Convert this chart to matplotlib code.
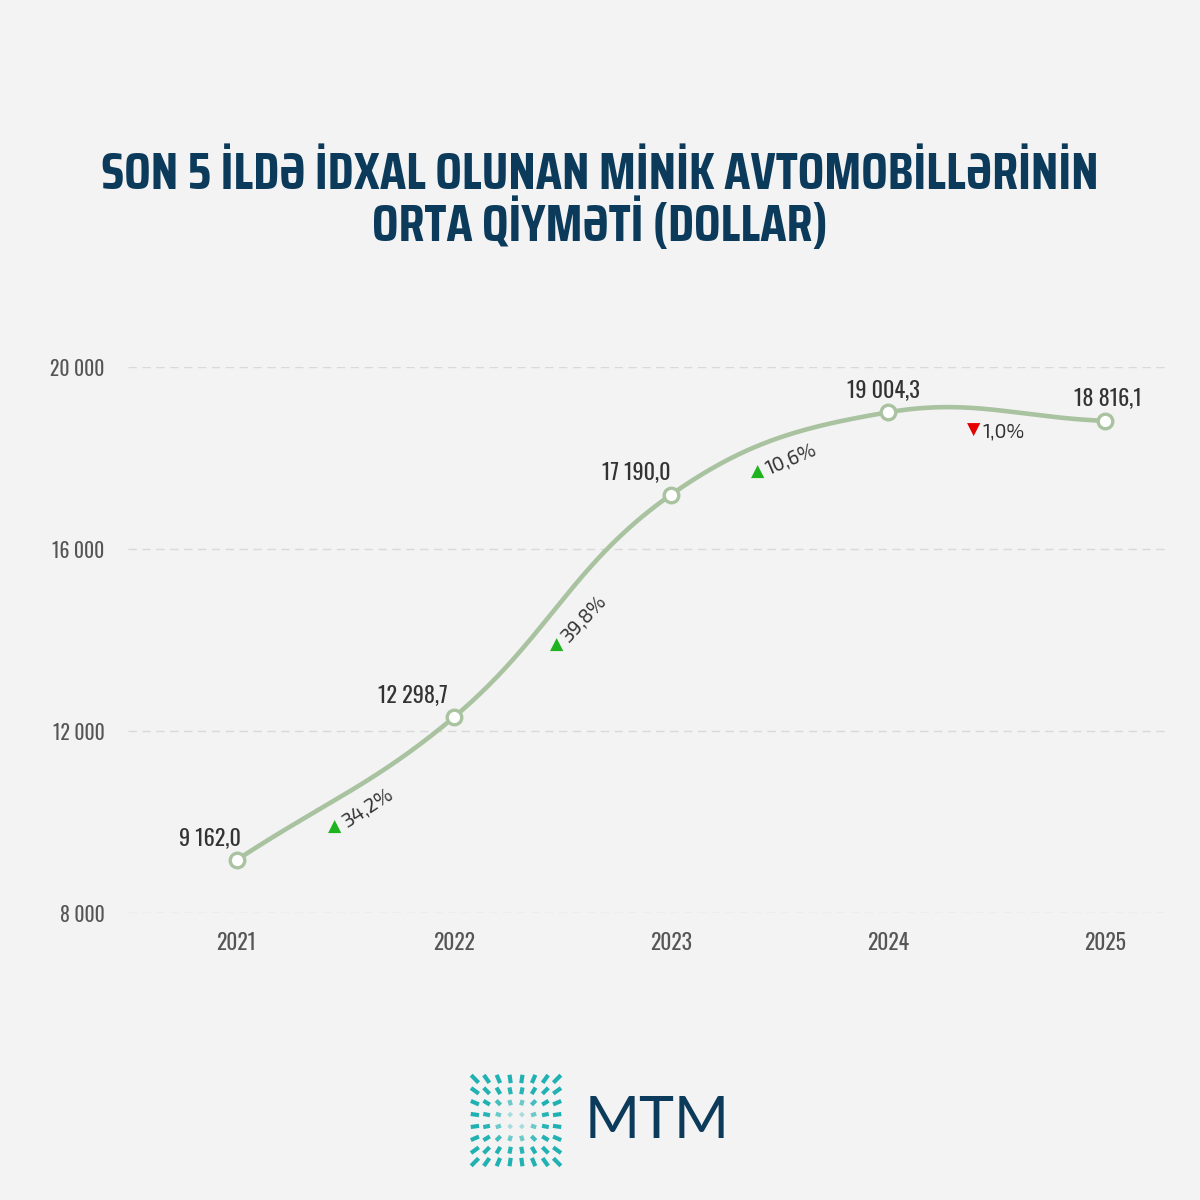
import numpy as np
import matplotlib
matplotlib.use("Agg")
import matplotlib.pyplot as plt
from matplotlib.collections import LineCollection
from matplotlib import font_manager as fm
from matplotlib.ft2font import FT2Font

# ---------------- data ----------------
years = ["2021", "2022", "2023", "2024", "2025"]
values = [9162.0, 12298.7, 17190.0, 19004.3, 18816.1]
value_labels = ["9 162,0", "12 298,7", "17 190,0", "19 004,3", "18 816,1"]
changes = ["34,2%", "39,8%", "10,6%", "1,0%"]
change_up = [True, True, True, False]
y_ticks = [8000, 12000, 16000, 20000]
y_tick_labels = ["8 000", "12 000", "16 000", "20 000"]
title_lines = ["SON 5 İLDƏ İDXAL OLUNAN MİNİK AVTOMOBİLLƏRİNİN", "ORTA QİYMƏTİ (DOLLAR)"]
logo_text = "MTM"

# ---------------- fonts ----------------
def pick(cands, weight=400, chars=""):
    for name in cands:
        fs = [f for f in fm.fontManager.ttflist if f.name == name and f.style == "normal"]
        if not fs:
            continue
        def wv(f):
            try:
                return int(f.weight)
            except Exception:
                return 400
        best = min(fs, key=lambda f: abs(wv(f) - weight))
        try:
            ft = FT2Font(best.fname)
            if all(ft.get_char_index(ord(c)) for c in chars if not c.isspace()):
                return name
        except Exception:
            continue
    return "DejaVu Sans"

TITLE_FONT = pick(["Rajdhani", "Saira Semi Condensed", "Saira Condensed", "Barlow Semi Condensed",
                   "Barlow Condensed", "Exo 2", "Roboto Condensed", "Oswald"], 700,
                  "".join(title_lines))
NUM_FONT = pick(["Oswald", "Roboto Condensed", "Barlow Condensed", "PT Sans Narrow",
                 "Archivo Narrow", "Liberation Sans Narrow"], 300, "0123456789,")
PCT_FONT = pick(["Exo 2", "Exo", "Play", "Saira", "Rajdhani", "Titillium Web"], 400, "0123456789,%")
LOGO_FONT = pick(["Lato", "Open Sans", "Roboto"], 400, "MTM")

# ---------------- style ----------------
BG = "#f3f3f3"
NAVY = "#0c3a5b"
LINE = "#a9c3a1"
TXT = "#333333"
TICK = "#555555"
UP = "#1fb41f"
DOWN = "#e60000"
W = H = 1200

fig = plt.figure(figsize=(12, 12), dpi=100, facecolor=BG)
renderer = fig.canvas.get_renderer()

def fit(t, target_px):
    t.set_fontsize(20)
    w = t.get_window_extent(renderer).width
    t.set_fontsize(20 * target_px / w)
    return t.get_fontsize()

def fitsize(text, family, target_px, weight="normal"):
    t = fig.text(0, 0, text, family=family, fontweight=weight)
    s = fit(t, target_px)
    t.remove()
    return s

ax = fig.add_axes([128 / W, 1 - 913 / H, 1040 / W, 546 / H])
ax.set_facecolor("none")
x = np.arange(len(years))
ax.set_xlim(-0.5, 4.29)
ax.set_ylim(8000, 20000)
for s in ax.spines.values():
    s.set_visible(False)

ytick_fs = fitsize("20 000", [NUM_FONT, "DejaVu Sans"], 55)
xtick_fs = fitsize("2021", [NUM_FONT, "DejaVu Sans"], 40)
val_fs = fitsize("12 298,7", [NUM_FONT, "DejaVu Sans"], 70)
pct_fs = fitsize("1,0%", [PCT_FONT, "DejaVu Sans"], 42)

ax.set_yticks(y_ticks)
ax.set_yticklabels(y_tick_labels, fontsize=ytick_fs, color=TICK, family=[NUM_FONT, "DejaVu Sans"])
ax.set_xticks(x)
ax.set_xticklabels(years, fontsize=xtick_fs, color=TICK, family=[NUM_FONT, "DejaVu Sans"])
ax.tick_params(axis="y", length=0, pad=17)
ax.tick_params(axis="x", length=0, pad=14)
ax.grid(axis="y", color="#d9d9d9", lw=1.0, ls=(0, (6, 4)))
ax.set_axisbelow(True)

# ---------------- spline (Chart.js-style, tension 0.4, in display space) ----
fig.canvas.draw()
pts = ax.transData.transform(np.column_stack([x, values]))
n = len(pts)
tension = 0.4
cprev = np.zeros_like(pts)
cnext = np.zeros_like(pts)
for i in range(n):
    p0 = pts[i - 1] if i > 0 else pts[i]
    p1 = pts[i]
    p2 = pts[i + 1] if i < n - 1 else pts[i]
    d01 = np.hypot(*(p1 - p0))
    d12 = np.hypot(*(p2 - p1))
    tot = d01 + d12
    s01 = d01 / tot if tot else 0
    s12 = d12 / tot if tot else 0
    cprev[i] = p1 - tension * s01 * (p2 - p0)
    cnext[i] = p1 + tension * s12 * (p2 - p0)

curve = []
mids = []
for i in range(n - 1):
    P0, C1, C2, P3 = pts[i], cnext[i], cprev[i + 1], pts[i + 1]
    t = np.linspace(0, 1, 80)[:, None]
    seg = (1 - t) ** 3 * P0 + 3 * (1 - t) ** 2 * t * C1 + 3 * (1 - t) * t ** 2 * C2 + t ** 3 * P3
    curve.append(seg if i == 0 else seg[1:])
    mids.append(0.125 * P0 + 0.375 * C1 + 0.375 * C2 + 0.125 * P3)
curve = np.vstack(curve)
inv = ax.transData.inverted()
curve_d = inv.transform(curve)
mids_d = inv.transform(np.array(mids))

ax.plot(curve_d[:, 0], curve_d[:, 1], color=LINE, lw=3.3, solid_capstyle="round", zorder=3)
ax.plot(x, values, ls="none", marker="o", ms=10.5, mfc="white", mec=LINE, mew=2.4, zorder=4)

# value labels
label_ha = ["right", "right", "right", "center", "center"]
label_dx = [3, -4, 0, -3, 2]
for xi, v, lab, ha, dx in zip(x, values, value_labels, label_ha, label_dx):
    ax.annotate(lab, (xi, v), xytext=(dx, 11), textcoords="offset points",
                ha=ha, va="baseline", fontsize=val_fs, color=TXT,
                family=[NUM_FONT, "DejaVu Sans"], annotation_clip=False, zorder=5)

# percent change labels along the curve
tri_off = [(-9.5, -25.0), (-2.5, -30.4), (-11.5, -23.0), (-15.8, -14.4)]
rots = [33, 47, 23, 0]
for (mx, my), ch, up, (ox, oy), rot in zip(mids_d, changes, change_up, tri_off, rots):
    ax.annotate("▲" if up else "▼", (mx, my), xytext=(ox, oy), textcoords="offset points",
                ha="center", va="center", fontsize=12.5, color=UP if up else DOWN,
                family="DejaVu Sans", annotation_clip=False, zorder=5)
    r = np.deg2rad(rot)
    gap = 6.5
    ax.annotate(ch, (mx, my), xytext=(ox + gap * np.cos(r), oy + gap * np.sin(r)),
                textcoords="offset points", ha="left", va="center_baseline",
                rotation=rot, rotation_mode="anchor", fontsize=pct_fs, color=TXT,
                family=[PCT_FONT, "DejaVu Sans"], annotation_clip=False, zorder=5)

# ---------------- title ----------------
t1 = fig.text(0.5, 1 - 189 / H, title_lines[0], ha="center", va="baseline",
              fontweight="bold", color=NAVY, family=[TITLE_FONT, "DejaVu Sans"])
tfs = fit(t1, 1003)
fig.text(0.5, 1 - 241 / H, title_lines[1], ha="center", va="baseline", fontsize=tfs,
         fontweight="bold", color=NAVY, family=[TITLE_FONT, "DejaVu Sans"])

# ---------------- logo ----------------
lax = fig.add_axes([469 / W, 1 - 1168 / H, 94 / W, 95 / H])
lax.set_xlim(0, 8)
lax.set_ylim(0, 8)
lax.axis("off")
segs, cols = [], []
teal = np.array(matplotlib.colors.to_rgb("#20b2b3"))
for i in range(8):
    for j in range(8):
        p = np.array([i + 0.5, j + 0.5])
        d = p - 4.0
        r = np.hypot(*d)
        u = d / r
        L = 0.25 + 0.13 * r
        segs.append([p - u * L / 2, p + u * L / 2])
        a = min(1.0, 0.12 + r / 3.0)
        cols.append((*teal, a))
lax.add_collection(LineCollection(segs, colors=cols, linewidths=3.0, capstyle="butt"))

mt = fig.text(585 / W, 1 - 1138 / H, logo_text, ha="left", va="baseline",
              color=NAVY, family=[LOGO_FONT, "DejaVu Sans"])
fit(mt, 145)

fig.savefig("out.png", dpi=100, facecolor=BG)
